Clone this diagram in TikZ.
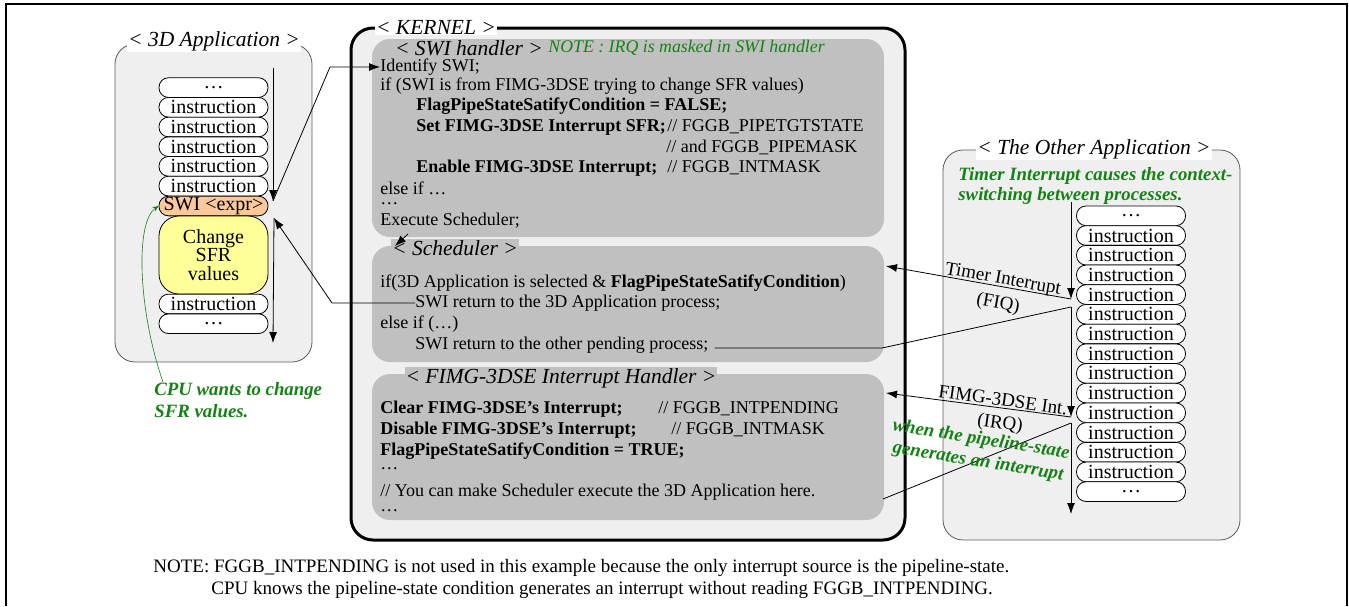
\documentclass[tikz,border=0pt]{standalone}
\usepackage{fontspec}
\setmainfont{Liberation Serif}
\usepackage{xcolor}
\usetikzlibrary{arrows.meta}
\definecolor{panelgray}{RGB}{239,239,239}
\definecolor{blockgray}{RGB}{192,192,192}
\definecolor{swiorange}{RGB}{250,200,155}
\definecolor{sfryellow}{RGB}{255,255,153}
\definecolor{notegreen}{RGB}{20,130,20}

\begin{document}
\begin{tikzpicture}[x=1pt,y=-1pt,>={Latex[length=11pt,width=8pt]},line width=0.8pt,
  panel/.style={draw=black!65,fill=panelgray,rounded corners=20pt},
  block/.style={fill=blockgray,rounded corners=18pt,inner sep=0pt},
  title/.style={font=\fontsize{21.5}{24}\selectfont\itshape,inner sep=1pt},
  code/.style={anchor=west,inner sep=0pt,font=\fontsize{18}{20}\selectfont},
  instr/.style={draw,fill=white,rounded corners=9.5pt,minimum width=109pt,minimum height=19.7pt,
    inner sep=0pt,font=\fontsize{20}{20}\selectfont},
  greennote/.style={anchor=west,inner sep=0pt,text=notegreen,font=\fontsize{18.8}{20}\selectfont\bfseries\itshape},
  intlabel/.style={inner sep=0pt,font=\fontsize{19}{20}\selectfont}]

  % page and frame
  \useasboundingbox (0,0) rectangle (1349,606);
  \draw[line width=2.5pt] (6,606) -- (6,4) -- (1347,4) -- (1347,606);

  % 3D application
  \node[panel,minimum width=197pt,minimum height=318pt] (app) at (213.5,203) {};
  \node[title,fill=white] (apptitle) at (214,41) {< 3D Application >};
  \node[instr] (l0) at (213.5,87.6) {\ldots};
  \foreach \i in {1,...,5}
    \node[instr] (l\i) at (213.5,87.6+19.7*\i) {instruction};
  \node[instr,fill=swiorange] (lswi) at (213.5,206) {SWI <expr>};
  \node[instr,fill=sfryellow,rounded corners=20pt,minimum height=78pt,align=center,
    font=\fontsize{20}{18.5}\selectfont] (lsfr) at (213.5,255) {Change\\SFR\\values};
  \node[instr] (l6) at (213.5,304) {instruction};
  \node[instr] (l7) at (213.5,323.7) {\ldots};
  \node[greennote] (cpunote) at (154,391) {CPU wants to change};
  \node[greennote] (cpunote2) at (154,411) {SFR values.};

  % kernel
  \node[draw,line width=3pt,fill=panelgray,rounded corners=22pt,minimum width=554pt,minimum height=512pt]
    (kernel) at (628,284) {};
  \node[title,fill=white] (kerneltitle) at (436,27) {< KERNEL >};

  % SWI handler
  \node[block,minimum width=512pt,minimum height=198pt] (swibox) at (628,138) {};
  \node[title] (swititle) at (469,48) {< SWI handler >};
  \node[code,text=notegreen,font=\fontsize{17.8}{20}\selectfont\itshape] (irqnote) at (548,48)
    {NOTE : IRQ is masked in SWI handler};
  \node[code] (idswi) at (380,67) {Identify SWI;};
  \node[code] (ifswi) at (380,86) {if (SWI is from FIMG-3DSE trying to change SFR values)};
  \node[code] (flagf) at (416,106) {\textbf{FlagPipeStateSatifyCondition = FALSE;}};
  \node[code] (setsfr) at (416,127) {\textbf{Set FIMG-3DSE Interrupt SFR;}};
  \node[code] (pipetgt) at (667,127) {// FGGB\_PIPETGTSTATE};
  \node[code] (pipemask) at (666,147) {// and FGGB\_PIPEMASK};
  \node[code] (enint) at (416,168) {\textbf{Enable FIMG-3DSE Interrupt;}};
  \node[code] (intmask) at (667,168) {// FGGB\_INTMASK};
  \node[code] (elseif) at (380,188) {else if \ldots};
  \node[code] (dots1) at (380,204) {\ldots};
  \node[code] (execs) at (380,221) {Execute Scheduler;};

  % scheduler
  \node[block,minimum width=512pt,minimum height=116pt] (schedbox) at (628,304) {};
  \node[title,fill=blockgray] (schedtitle) at (455,248) {< Scheduler >};
  \node[code] (selif) at (380,283) {if(3D Application is selected \& \textbf{FlagPipeStateSatifyCondition})};
  \node[code] (sret) at (415,303) {SWI return to the 3D Application process;};
  \node[code] (selse) at (380,324) {else if (\ldots)};
  \node[code] (opend) at (415,345) {SWI return to the other pending process;};

  % FIMG-3DSE interrupt handler
  \node[block,minimum width=512pt,minimum height=146pt] (irqbox) at (628,447) {};
  \node[title,fill=blockgray] (irqtitle) at (561,378) {< FIMG-3DSE Interrupt Handler >};
  \node[code] (clrint) at (380,409) {\textbf{Clear FIMG-3DSE’s Interrupt;}};
  \node[code] (intpend) at (658,409) {// FGGB\_INTPENDING};
  \node[code] (disint) at (380,430) {\textbf{Disable FIMG-3DSE’s Interrupt;}};
  \node[code] (intmask2) at (671,430) {// FGGB\_INTMASK};
  \node[code] (flagt) at (380,451) {\textbf{FlagPipeStateSatifyCondition = TRUE;}};
  \node[code] (dots2) at (380,469) {\ldots};
  \node[code] (youcan) at (380,492) {// You can make Scheduler execute the 3D Application here.};
  \node[code] (dots3) at (380,511) {\ldots};

  % the other application
  \node[panel,minimum width=297pt,minimum height=390pt] (other) at (1091.5,345) {};
  \node[title,fill=white] (othertitle) at (1094,149) {< The Other Application >};
  \node[greennote] (timernote) at (958,176) {Timer Interrupt causes the context-};
  \node[greennote] (timernote2) at (958,196) {switching between processes.};
  \node[instr] (r0) at (1131,215.8) {\ldots};
  \foreach \i in {1,...,13}
    \node[instr] (r\i) at (1131,215.8+19.7*\i) {instruction};
  \node[instr] (r14) at (1131,491.6) {\ldots};

  % flow of the 3D application
  \coordinate (ltop) at (273,68);
  \coordinate (lswiin) at (273,201);
  \coordinate (lbend) at (330,67);
  \coordinate (lret) at (274,218);
  \coordinate (lbend2) at (332,303);
  \coordinate (lend) at (273,343);
  \draw[->] (ltop) -- (lswiin);
  \draw[->] (lswiin) -- (lbend) -- (idswi.west);
  \draw[->] (sret.west) -- (lbend2) -- (lret);
  \draw[->] (lret) -- (lend);
  \coordinate (execout) at (408,234);
  \coordinate (schedin0) at (395,246);
  \draw[->] (execout) -- (schedin0);
  \draw[->,notegreen,line width=0.6pt,>={Stealth[length=6pt,width=5pt]}]
    ([xshift=9pt]cpunote.north west) .. controls (138,310) and (135,222) .. (lswi.west);

  % flow of the other application
  \coordinate (rtop) at (1071,202);
  \coordinate (rfiq) at (1071,299);
  \coordinate (rback) at (1071,307);
  \coordinate (rirq) at (1071,417);
  \coordinate (rback2) at (1071,423);
  \coordinate (rend) at (1071,514);
  \coordinate (schedin) at (886,266);
  \coordinate (schedout) at (882,348);
  \coordinate (irqin) at (886,393);
  \coordinate (irqout) at (883,499);
  \draw[->] (rtop) -- (rfiq);
  \draw[->] (rfiq) -- (schedin);
  \draw ([xshift=6pt,yshift=-3pt]opend.east) -- (schedout) -- (rback);
  \draw[->] (rback) -- (rirq);
  \draw[->] (rirq) -- (irqin);
  \draw (irqout) -- (rback2);
  \draw[->] (rback2) -- (rend);
  \node[intlabel,rotate=-10] (fiqlbl) at (1003,280) {Timer Interrupt};
  \node[intlabel,rotate=-10] (fiqlbl2) at (998,304) {(FIQ)};
  \node[intlabel,rotate=-8] (irqlbl) at (1003,400) {FIMG-3DSE Int.};
  \node[intlabel,rotate=-8] (irqlbl2) at (1000,424) {(IRQ)};
  \node[greennote,anchor=center,rotate=-9] (pipenote) at (981,440) {when the pipeline-state};
  \node[greennote,anchor=center,rotate=-9] (pipenote2) at (978,462) {generates an interrupt};

  % note
  \node[code,font=\fontsize{19}{20}\selectfont] (fnote) at (153,568)
    {NOTE: FGGB\_INTPENDING is not used in this example because the only interrupt source is the pipeline-state.};
  \node[code,font=\fontsize{19}{20}\selectfont] (fnote2) at (211,590)
    {CPU knows the pipeline-state condition generates an interrupt without reading FGGB\_INTPENDING.};
\end{tikzpicture}
\end{document}
